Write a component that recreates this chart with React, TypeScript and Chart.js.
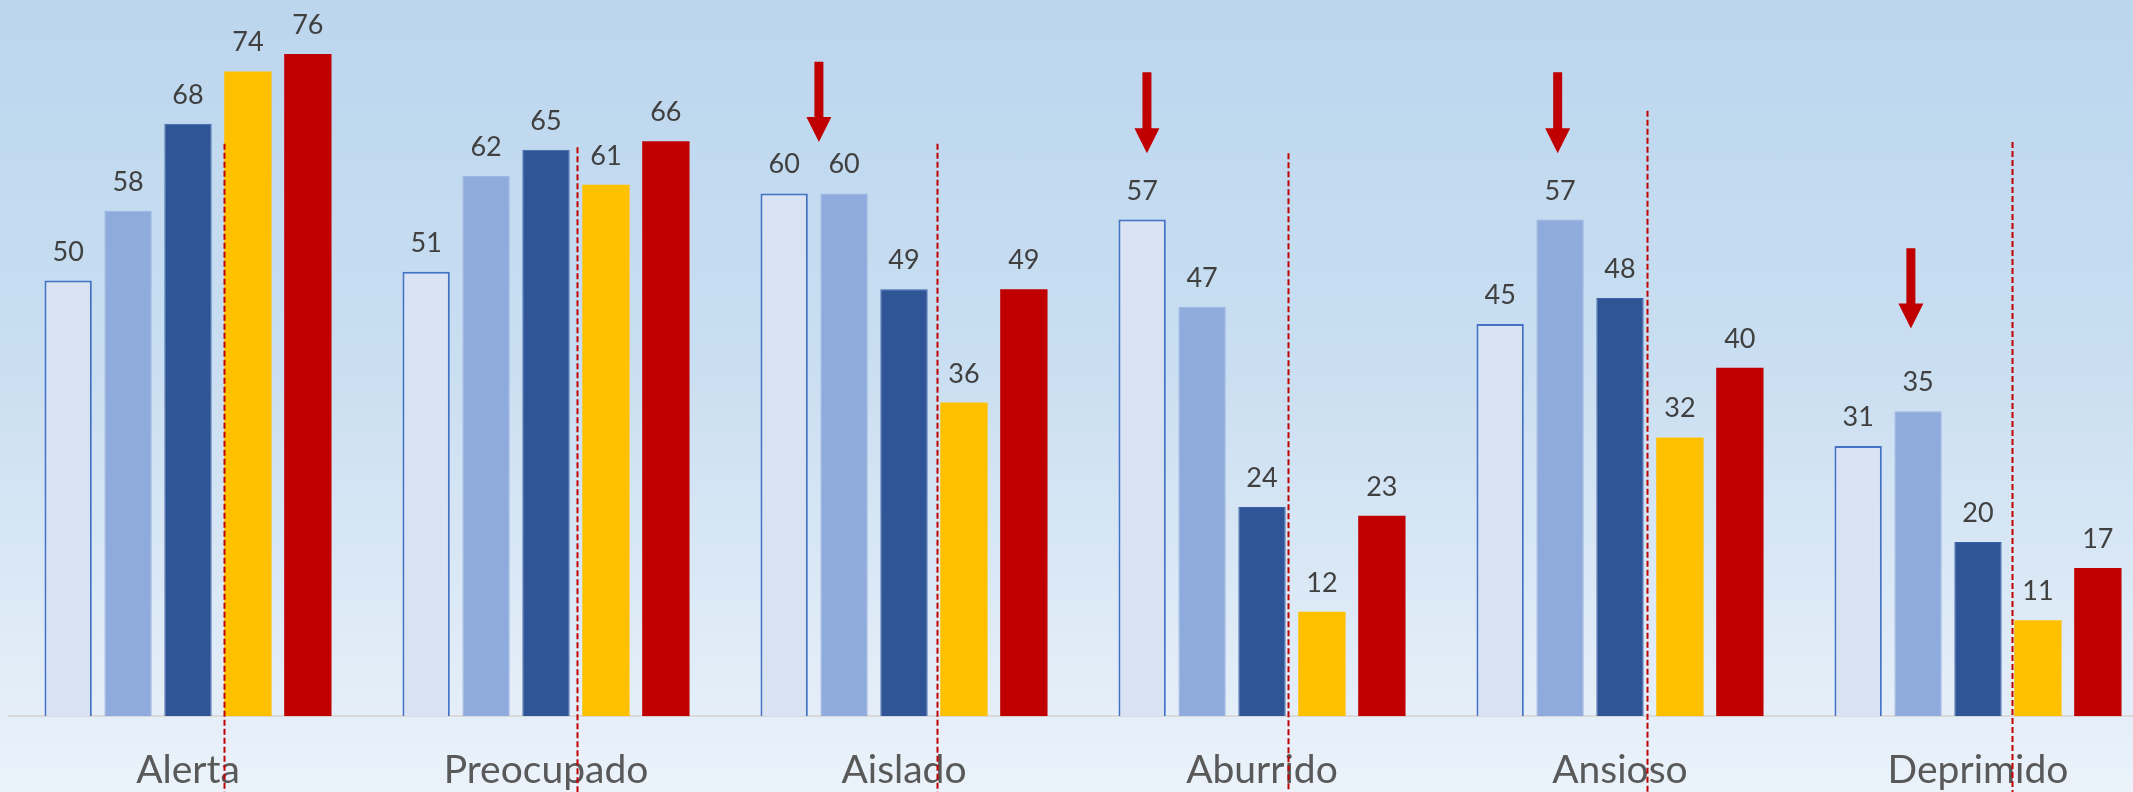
import React, { useEffect, useRef } from 'react';
import { Chart, registerables } from 'chart.js';

Chart.register(...registerables);

const categories = ['Alerta', 'Preocupado', 'Aislado', 'Aburrido', 'Ansioso', 'Deprimido'];
const seriesNames = ['Serie 1', 'Serie 2', 'Serie 3', 'Serie 4', 'Serie 5'];
const serie1 = [50, 51, 60, 57, 45, 31];
const serie2 = [58, 62, 60, 47, 57, 35];
const serie3 = [68, 65, 49, 24, 48, 20];
const serie4 = [74, 61, 36, 12, 32, 11];
const serie5 = [76, 66, 49, 23, 40, 17];
const seriesFill = ['#DAE3F3', '#8FAADC', '#2F5597', '#FFC000', '#C00000'];
const seriesBorder = ['#4472C4', '#9DB5E0', '#3A62A8', '#FFC000', '#C00000'];
const seriesBorderWidth = [2, 1, 1, 0, 0];

// red dashed separators between 3rd and 4th bar of each group
const dividerFraction = [0.6, 0.52, 0.55, 0.43, 0.45, 0.57];
const dividerTop = [65.7, 65.3, 65.7, 64.6, 69.5, 65.9];

// red down arrows (category, bar slot, tail value, tip value)
const arrowCategory = ['Aislado', 'Aburrido', 'Ansioso', 'Deprimido'];
const arrowSlot = [0.58, 0.08, 0.96, 0.88];
const arrowFrom = [75.1, 73.9, 73.9, 53.7];
const arrowTo = [65.9, 64.6, 64.6, 44.5];

const seriesData = [serie1, serie2, serie3, serie4, serie5];

const overlayPlugin = {
  id: 'overlay',
  afterDatasetsDraw(chart: any) {
    const ctx = chart.ctx;
    ctx.save();
    ctx.font = '27px Lato';
    ctx.fillStyle = '#404040';
    ctx.textAlign = 'center';
    ctx.textBaseline = 'alphabetic';
    chart.data.datasets.forEach((ds: any, i: number) => {
      const meta = chart.getDatasetMeta(i);
      meta.data.forEach((bar: any, j: number) => {
        ctx.fillText(String(ds.data[j]), bar.x, bar.y - 20);
      });
    });
    ctx.restore();
  },
  afterDraw(chart: any) {
    const ctx = chart.ctx;
    const yScale = chart.scales.y;
    const m2 = chart.getDatasetMeta(2);
    const m3 = chart.getDatasetMeta(3);
    ctx.save();
    ctx.strokeStyle = '#C00000';
    ctx.lineWidth = 2;
    ctx.setLineDash([6, 3]);
    categories.forEach((_, j) => {
      const x = m2.data[j].x + dividerFraction[j] * (m3.data[j].x - m2.data[j].x);
      ctx.beginPath();
      ctx.moveTo(Math.round(x) + 0.5, yScale.getPixelForValue(dividerTop[j]));
      ctx.lineTo(Math.round(x) + 0.5, chart.height);
      ctx.stroke();
    });
    ctx.setLineDash([]);
    ctx.fillStyle = '#C00000';
    arrowCategory.forEach((cat, k) => {
      const j = categories.indexOf(cat);
      const s = arrowSlot[k];
      const i0 = Math.floor(s);
      const b0 = chart.getDatasetMeta(i0).data[j];
      const b1 = chart.getDatasetMeta(Math.min(i0 + 1, 4)).data[j];
      const x = b0.x + (s - i0) * (b1.x - b0.x);
      const yTop = yScale.getPixelForValue(arrowFrom[k]);
      const yTip = yScale.getPixelForValue(arrowTo[k]);
      const headLen = 25;
      const headHalf = 12.5;
      const shaftHalf = 4.5;
      ctx.beginPath();
      ctx.moveTo(x - shaftHalf, yTop);
      ctx.lineTo(x + shaftHalf, yTop);
      ctx.lineTo(x + shaftHalf, yTip - headLen);
      ctx.lineTo(x + headHalf, yTip - headLen);
      ctx.lineTo(x, yTip);
      ctx.lineTo(x - headHalf, yTip - headLen);
      ctx.lineTo(x - shaftHalf, yTip - headLen);
      ctx.closePath();
      ctx.fill();
    });
    ctx.restore();
  },
};

export default function App() {
  const ref = useRef<HTMLCanvasElement | null>(null);
  useEffect(() => {
    if (!ref.current) return;
    const chart = new Chart(ref.current, {
      type: 'bar',
      data: {
        labels: categories,
        datasets: seriesNames.map((name, i) => ({
          label: name,
          data: seriesData[i],
          backgroundColor: seriesFill[i],
          borderColor: seriesBorder[i],
          borderWidth: seriesBorderWidth[i],
          categoryPercentage: 0.837,
          barPercentage: 0.79,
        })),
      },
      options: {
        responsive: false,
        animation: false,
        layout: { padding: { left: 9, right: 0, top: 0, bottom: 0 } },
        plugins: { legend: { display: false }, tooltip: { enabled: false } },
        scales: {
          x: {
            grid: { display: false, drawTicks: false },
            border: { display: true, color: '#D9D9D9', width: 2 },
            ticks: { font: { family: 'Lato', size: 39 }, color: '#595959', padding: 31, maxRotation: 0, autoSkip: false },
          },
          y: { display: false, min: 0, max: 82.2 },
        },
      },
      plugins: [overlayPlugin],
    });
    return () => chart.destroy();
  }, []);
  return (
    <div
      style={{
        position: 'fixed',
        left: 0,
        top: 0,
        width: 2133,
        height: 792,
        overflow: 'hidden',
        background: 'linear-gradient(180deg, #BCD6EE 0%, #C9DEF1 45%, #EBF2FA 100%)',
      }}
    >
      <canvas ref={ref} width={2157} height={825} style={{ display: 'block', width: 2157, height: 825 }} />
    </div>
  );
}
